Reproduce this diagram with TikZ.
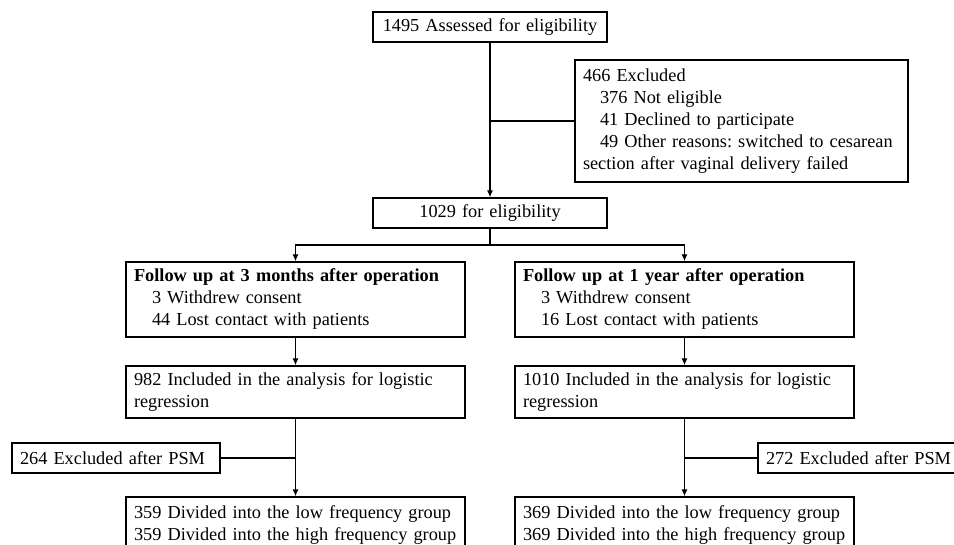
\documentclass[tikz,border=0pt]{standalone}
\usepackage{fontspec}
\setmainfont{Liberation Serif}
\usetikzlibrary{arrows.meta}

\tikzset{
  box/.style={draw, rectangle, line width=1.3pt, inner xsep=8pt, inner ysep=0pt,
    font=\fontsize{18.3}{22}\selectfont\frenchspacing},
  line/.style={line width=1.3pt},
  arr/.style={line width=1.3pt, -{Latex[length=7pt,width=6pt]}}
}

\begin{document}
\begin{tikzpicture}[x=1pt, y=-1pt]
    \clip (0,0) rectangle (954,545);

    % Enrolment
    \node[box, text width=218pt, minimum height=30pt, align=center] (n1495) at (490,27) {1495 Assessed for eligibility};
    \node[box, text width=317pt, minimum height=122pt, align=left] (excl) at (741.5,121)
        {466 Excluded\\
         \hspace*{17pt}376 Not eligible\\
         \hspace*{17pt}41 Declined to participate\\
         \hspace*{17pt}49 Other reasons: switched to cesarean\\
         section after vaginal delivery failed};
    \node[box, text width=218pt, minimum height=30pt, align=center] (n1029) at (490,213) {1029 for eligibility};
    \coordinate (split) at (490,245);

    % Follow up
    \node[box, text width=323pt, minimum height=75pt, align=left] (fu3) at (295.5,299.5)
        {\textbf{Follow up at 3 months after operation}\\
         \hspace*{18pt}3 Withdrew consent\\
         \hspace*{18pt}44 Lost contact with patients};
    \node[box, text width=323pt, minimum height=75pt, align=left] (fu1) at (684.5,299.5)
        {\textbf{Follow up at 1 year after operation}\\
         \hspace*{18pt}3 Withdrew consent\\
         \hspace*{18pt}16 Lost contact with patients};

    % Analysis
    \node[box, text width=323pt, minimum height=52pt, align=left] (inc3) at (295.5,392)
        {982 Included in the analysis for logistic\\ regression};
    \node[box, text width=323pt, minimum height=52pt, align=left] (inc1) at (684.5,392)
        {1010 Included in the analysis for logistic\\ regression};
    \node[box, text width=192pt, minimum height=30pt, align=left] (psm3) at (116,458) {264 Excluded after PSM};
    \node[box, text width=192pt, minimum height=30pt, align=left] (psm1) at (862,458) {272 Excluded after PSM};

    % Groups
    \node[box, text width=323pt, minimum height=56pt, align=left] (div3) at (295.5,525)
        {359 Divided into the low frequency group\\ 359 Divided into the high frequency group};
    \node[box, text width=323pt, minimum height=56pt, align=left] (div1) at (684.5,525)
        {369 Divided into the low frequency group\\ 369 Divided into the high frequency group};

    % Connectors
    \draw[arr] (n1495) -- (n1029);
    \draw[line] (excl.west) -- (excl.west -| n1495.south);
    \draw[line] (n1029.south) -- (split);
    \draw[arr] (split) -| (fu3.north);
    \draw[arr] (split) -| (fu1.north);
    \draw[arr] (fu3) -- (inc3);
    \draw[arr] (fu1) -- (inc1);
    \draw[arr] (inc3) -- (div3);
    \draw[arr] (inc1) -- (div1);
    \draw[line] (psm3.east) -- (psm3.east -| inc3.south);
    \draw[line] (psm1.west) -- (psm1.west -| inc1.south);
\end{tikzpicture}
\end{document}
